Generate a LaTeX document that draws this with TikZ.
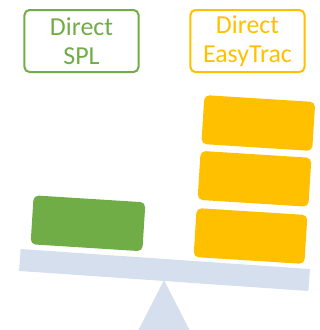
\documentclass[tikz,border=0pt]{standalone}
\usepackage{fontspec}
\setmainfont{Carlito}
\definecolor{spl}{HTML}{70AD47}
\definecolor{easy}{HTML}{FFC000}
\definecolor{beamc}{HTML}{D6DFEE}
\begin{document}
\begin{tikzpicture}[x=1bp,y=-1bp,
  label/.style={draw, line width=2bp, rounded corners=5bp, minimum width=114bp,
    minimum height=62bp, inner sep=0pt, align=center,
    font=\fontsize{26}{29.5}\selectfont},
  block/.style={fill, rounded corners=5bp, minimum width=111bp, minimum height=49bp,
    inner sep=0pt, rotate=-3.6}]
\useasboundingbox (0,0) rectangle (320,330);
% fulcrum
\fill[beamc] (164,280) -- (190,331) -- (138,331) -- cycle;
% beam
\node[fill=beamc, minimum width=290bp, minimum height=22bp, inner sep=0pt, rotate=-3.96] (beam) at (164.5,270) {};
% blocks
\node[block, spl, minimum width=112bp] (g) at (88,223.3) {};
\node[block, easy] (y1) at (250.5,236) {};
\node[block, easy] (y2) at (254.5,178.8) {};
\node[block, easy] (y3) at (258.3,123) {};
% labels
\node[label, spl, text=spl] (ls) at (81.5,41) {Direct\\SPL};
\node[label, easy, text=easy] (le) at (247.5,41) {Direct\\EasyTrac};
\end{tikzpicture}
\end{document}
